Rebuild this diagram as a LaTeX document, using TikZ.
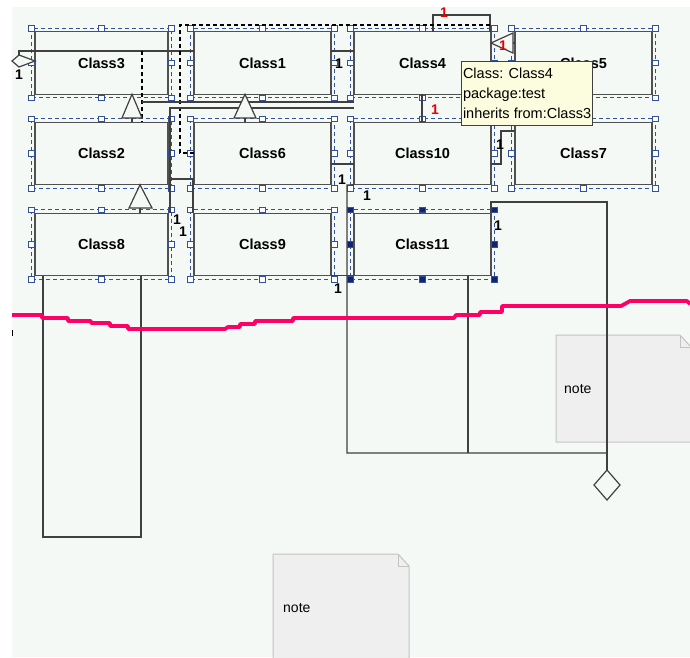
\documentclass[tikz,border=0pt]{standalone}
\usepackage{fontspec}
\setmainfont{Liberation Sans}
\usetikzlibrary{calc}
\definecolor{canvas}{RGB}{245,249,246}
\definecolor{edge}{RGB}{80,80,80}
\definecolor{conncol}{RGB}{64,64,64}
\definecolor{hblue}{RGB}{50,80,160}
\definecolor{hnavy}{RGB}{20,35,110}
\definecolor{pinkline}{RGB}{255,0,102}
\definecolor{notefill}{RGB}{239,239,239}
\definecolor{noteedge}{RGB}{195,195,195}
\definecolor{tipfill}{RGB}{252,252,222}
\definecolor{redlab}{RGB}{230,0,0}
\newcommand{\selframe}[2]{%
  \path ([shift={(-3.5pt,3.5pt)}]#1.north west) coordinate (#1-a)
        ([shift={(3.5pt,-3.5pt)}]#1.south east) coordinate (#1-b);
  \draw[seldash] (#1-a) rectangle (#1-b);
  \foreach \hx/\hy in {0/0,0.5/0,1/0,0/0.5,1/0.5,0/1,0.5/1,1/1}{
    \draw[handle,fill=#2] let \p1=(#1-a), \p2=(#1-b) in
      ({\x1+\hx*(\x2-\x1)-2.75pt},{\y1+\hy*(\y2-\y1)-2.75pt}) rectangle +(5.5pt,5.5pt);
  }%
}
\begin{document}
\begin{tikzpicture}[x=1pt,y=-1pt,
  classbox/.style={draw=edge, line width=1.4pt, minimum width=137pt, minimum height=62.5pt,
    inner sep=0pt, outer sep=0pt, font=\fontsize{14.5}{16}\selectfont\bfseries, text=black},
  narrow/.style={minimum width=133pt},
  seldash/.style={draw=hblue, line width=1.3pt, dash pattern=on 4pt off 3pt},
  handle/.style={draw=hblue, line width=1pt},
  conn/.style={draw=conncol, line width=1.2pt},
  depend/.style={draw=black, line width=1.1pt, dash pattern=on 4pt off 3pt},
  mult/.style={font=\fontsize{14}{14}\selectfont\bfseries, inner sep=0pt},
  redmult/.style={mult, text=redlab},
  tri/.style={conn, fill=canvas, line join=miter},
  notebox/.style={draw=noteedge, fill=notefill, line width=1pt},
  notetext/.style={font=\fontsize{14}{16}\selectfont, inner sep=0pt, anchor=west}
]
\useasboundingbox (0,0) rectangle (690,657);
\fill[white] (0,0) rectangle (690,657);
\fill[canvas] (12,7) rectangle (690,657);

% notes
\draw[notebox] (556,335) -- (680,335) -- (691,347) -- (691,442) -- (556,442) -- cycle;
\draw[notebox, fill=none] (680,335) -- (680,347) -- (691,347);
\node[notetext] (n1) at (564,389) {note};
\draw[notebox] (273,554) -- (398,554) -- (409,566) -- (409,660) -- (273,660) -- cycle;
\draw[notebox, fill=none] (398,554) -- (398,566) -- (409,566);
\node[notetext] (n2) at (283,608) {note};

% classes
\node[classbox,narrow] (c3) at (101.5,63) {Class3};
\node[classbox] (c1) at (262.5,63) {Class1};
\node[classbox] (c4) at (422.5,63) {Class4};
\node[classbox] (c5) at (583.5,63) {Class5};
\node[classbox,narrow] (c2) at (101.5,153.5) {Class2};
\node[classbox] (c6) at (262.5,153.5) {Class6};
\node[classbox] (c10) at (422.5,153.5) {Class10};
\node[classbox] (c7) at (583.5,153.5) {Class7};
\node[classbox,narrow] (c8) at (101.5,244.5) {Class8};
\node[classbox] (c9) at (262.5,244.5) {Class9};
\node[classbox] (c11) at (422.5,244.5) {Class11};

\selframe{c3}{white}
\selframe{c1}{white}
\selframe{c4}{white}
\selframe{c5}{white}
\selframe{c2}{white}
\selframe{c6}{white}
\selframe{c10}{white}
\selframe{c7}{white}
\selframe{c8}{white}
\selframe{c9}{white}
\selframe{c11}{hnavy}

% connectors
\draw[conn] (c1.west |- 0,51) -- (19,51) -- (19,55);
\draw[conn, fill=canvas] (c3.west |- 0,61) -- (19,55) -- (12,61) -- (19,67) -- cycle;
\draw[conn] (c1.east |- 0,51) -- (c4.west |- 0,51);
\draw[conn] (c4.north -| 433,0) -- (433,15) -- (490,15) -- (c4.north -| 490,0);
\draw[depend] (c6.west |- 0,153) -- (180,153) -- (180,25) -- (490,25);
\draw[depend] (142,51) -- (c2.north -| 142,0);
\draw[conn] (142,102) -- (c10.west |- 0,102);
\draw[conn] (c10.west |- 0,108) -- (170,108) -- (c8.north -| 170,0);
\draw[conn] (170,179) -- (193,179) -- (c9.north -| 193,0);
\draw[tri] (c3.south -| 132,0) -- (142,118) -- (122,118) -- cycle;
\draw[conn] (132,118) -- (c2.north -| 132,0);
\draw[tri] (c1.south -| 245,0) -- (256,118) -- (234,118) -- cycle;
\draw[conn] (245,118) -- (c6.north -| 245,0);
\draw[conn] (c6.east |- 0,164) -- (c10.west |- 0,164);
\draw[conn] (c10.south west) -- (347,185) -- (347,453) -- (607,453);
\draw[conn] (c9.south east) -- (c11.south west);
\draw[conn] (c11.south -| 468,0) -- (468,453);
\draw[conn] (c11.north east) -- (491,202) -- (607,202) -- (607,470);
\draw[conn, fill=canvas] (607,470) -- (620,485) -- (607,500) -- (594,485) -- cycle;
\draw[conn] (c8.south -| 43,0) -- (43,537) -- (141,537) -- (c8.south -| 141,0);
\draw[tri] (c2.south -| 140,0) -- (152,208) -- (129,208) -- cycle;
\draw[conn] (140,208) -- (c8.north -| 140,0);
\draw[tri] (c4.east |- 0,43) -- (513,33) -- (513,53) -- cycle;
\draw[conn] (513,43) -- (c5.west |- 0,43);
\draw[conn] (c4.south -| 422,0) -- (c10.north -| 422,0);
\draw[conn] (c10.east |- 0,164) -- (501,164) -- (501,131) -- (c7.west |- 0,131);

% multiplicities
\node[mult] (m1) at (19,75) {1};
\node[mult] (m2) at (339,64) {1};
\node[redmult] (m3) at (444,13) {1};
\node[redmult] (m4) at (503,46) {1};
\node[redmult] (m5) at (435,110) {1};
\node[mult] (m6) at (500,145) {1};
\node[mult] (m7) at (342,180) {1};
\node[mult] (m8) at (367,196) {1};
\node[mult] (m9) at (177,220) {1};
\node[mult] (m10) at (183,232) {1};
\node[mult] (m11) at (498,226) {1};
\node[mult] (m12) at (338,289) {1};

% pink freehand line
\draw[pinkline, line width=3.8pt, line join=round]
  (12,315) -- (42,315) -- (42,318) -- (68,318) -- (68,321) -- (91,321) -- (91,323)
  -- (110,323) -- (110,326) -- (128,326) -- (128,329) -- (225,329) -- (228,327)
  -- (240,327) -- (240,324) -- (255,324) -- (255,321) -- (293,321) -- (293,318)
  -- (454,318) -- (456,315) -- (480,315) -- (480,312) -- (502,312) -- (502,306)
  -- (621,306) -- (630,301) -- (687,301) -- (690,304);
\draw[black, line width=1pt] (12,330) -- (12,336);

% tooltip
\node[draw=conncol, fill=tipfill, line width=1pt, anchor=north west, minimum width=131pt,
  minimum height=64pt, inner xsep=1.5pt, inner ysep=0pt, align=left,
  font=\fontsize{14.5}{20}\selectfont] (tip) at (461,61)
  {Class: Class4\\package:test\\inherits from:Class3};
\end{tikzpicture}
\end{document}
